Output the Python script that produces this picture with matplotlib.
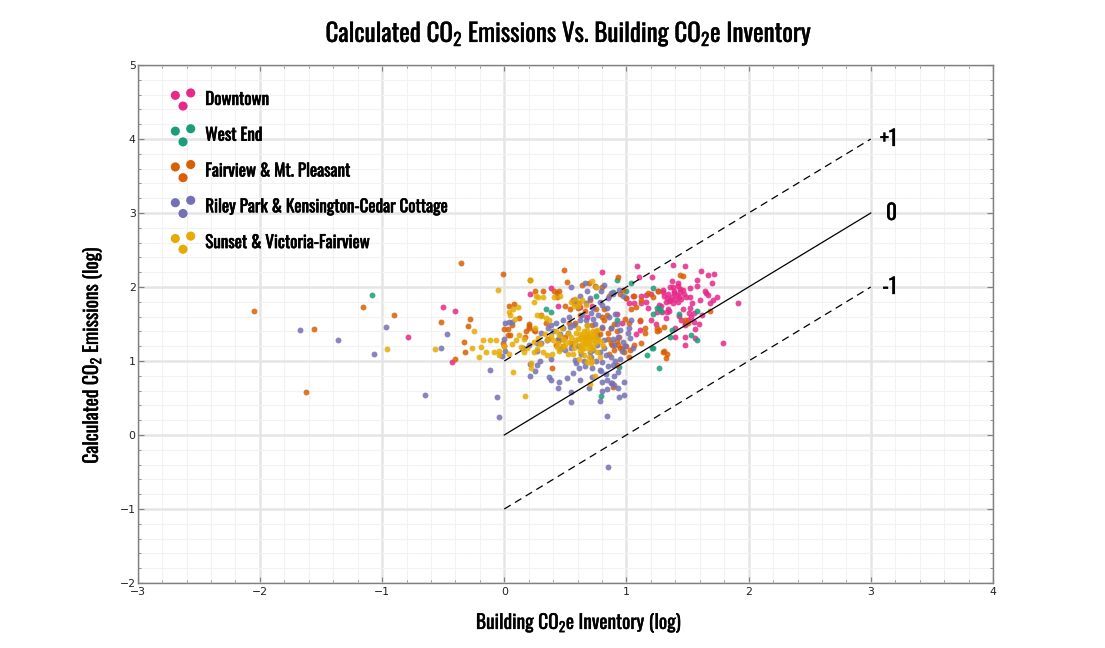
import matplotlib
matplotlib.use("Agg")
import matplotlib.pyplot as plt
import matplotlib.patheffects as pe
from matplotlib.ticker import MultipleLocator

FONT = ['Oswald', 'DejaVu Sans']

# ---------------- data (log10 values) ----------------
groups = ["Downtown", "West End", "Fairview & Mt. Pleasant",
          "Riley Park & Kensington-Cedar Cottage", "Sunset & Victoria-Fairview"]
colors = ["#e7298a", "#1b9e77", "#d95f02", "#7570b3", "#e6ab02"]

downtown_x = [1.09, 1.38, 1.48, 1.61, 1.67, 1.72, 1.10, 1.21, 1.37, 1.36, 1.38, 1.42, 1.44, 1.58,
              1.30, 1.34, 1.37, 1.39, 1.41, 1.43, 1.45, 1.47, 1.49, 1.33, 1.36, 1.40, 1.32, 1.35,
              1.38, 1.42, 1.52, 1.52, 1.54, 1.60, 1.65, 1.67, 1.68, 1.71, 1.74, 1.91, 1.25, 1.29,
              1.33, 1.35, 1.51, 1.55, 1.62, 1.50, 1.55, 1.59, 1.45, 1.48, 1.40, 1.48, 1.56, 1.40,
              1.48, 1.56, 1.48, 1.79, 1.11, 1.11, 1.08, 0.21, 0.38, 0.44, 0.72, 0.80, 0.62, 0.92,
              1.02, 1.06, 1.12, 1.16, 1.12, 1.16, 1.20, 1.00, 1.05, 0.96, -0.50, -0.40, -0.79,
              -0.43, 1.26, 1.30, 1.28, 1.18, 1.46, 1.44, 1.52, 1.64, 1.70, 1.58, 1.42, 1.20, 1.24,
              1.32, 0.68, 0.56, 1.31, 1.39, 1.46, 1.27, 1.53, 1.34, 1.43]
downtown_y = [2.28, 2.30, 2.28, 2.22, 2.16, 2.18, 2.14, 2.13, 2.08, 2.00, 2.00, 2.01, 1.97, 2.02,
              1.93, 1.90, 1.87, 1.92, 1.89, 1.86, 1.84, 1.90, 1.87, 1.85, 1.82, 1.84, 1.80, 1.81,
              1.78, 1.80, 1.98, 1.86, 1.78, 1.82, 1.92, 1.89, 1.79, 1.82, 1.86, 1.78, 1.66, 1.66,
              1.66, 1.67, 1.65, 1.65, 1.62, 1.56, 1.53, 1.50, 1.55, 1.52, 1.45, 1.48, 1.43, 1.32,
              1.33, 1.31, 1.21, 1.25, 1.54, 1.42, 1.37, 1.91, 1.99, 1.75, 1.74, 2.20, 1.73, 1.64,
              1.78, 1.78, 1.79, 1.80, 1.88, 1.89, 1.90, 1.85, 1.88, 1.51, 1.73, 1.68, 1.32,
              0.99, 1.95, 1.96, 1.74, 1.72, 1.70, 1.93, 1.72, 1.94, 2.05, 2.10, 2.05, 1.55, 1.50,
              1.58, 1.60, 1.82, 1.88, 1.95, 1.96, 1.76, 1.60, 1.70, 1.61]

westend_x = [-1.08, 0.34, 0.38, 0.92, 1.04, 1.22, 1.25, 1.28, 1.22, 1.43, 1.58, 1.37, 1.53, 1.58,
             1.22, 1.17, 1.27, 0.79, 0.94, 1.21, 0.89, 0.92, 1.36, 1.27, 1.00, 0.75]
westend_y = [1.89, 1.70, 1.66, 2.09, 2.05, 1.99, 1.71, 1.68, 1.63, 1.63, 1.68, 1.42, 1.35, 1.29,
             1.17, 1.08, 0.90, 0.53, 0.92, 1.17, 1.93, 1.55, 1.32, 1.72, 1.95, 1.88]

fairview_x = [-2.05, -1.62, -1.56, -1.16, -0.90, -0.35, -0.01, -0.28, -0.52, -0.30, -0.33, -0.32,
              -0.40, 0.00, -0.01, 0.00, 0.21, 0.49, 0.08, 0.03, 0.17, 0.20, 0.25, 0.34, 0.43, 0.43,
              0.51, 0.50, 0.57, 0.61, 0.64, 0.69, 0.74, 0.80, 0.93, 0.95, 1.00, 1.06, 1.12, 1.18,
              1.22, 1.26, 0.72, 0.75, 0.78, 0.80, 0.76, 0.85, 0.88, 0.92, 0.95, 0.98, 0.94, 0.90,
              0.87, 0.86, 1.11, 1.15, 1.25, 1.27, 1.30, 1.32, 1.48, 1.50, 1.68, 1.44, 1.46, 0.89,
              0.39, 0.42, 0.45, 0.50, 0.55, 0.48, 0.45, 0.54, 0.60, 0.66, 0.75, 0.80, 0.32, 0.41,
              0.25, 0.53, 0.58, 0.20, 0.24, 0.18, 0.04, 0.06, 0.03, 0.99, 1.02, 0.93, 0.96, 1.00,
              1.03, 1.06, 0.92, 1.04, 1.08, 0.82, 0.84, 0.87, 0.90, 0.82, 0.86, 0.97, 1.31, 1.33,
              1.25, 1.31, 1.15, 0.05, 0.12, 0.30, 0.36, 0.62, 0.70, 0.85, 0.92, 1.02, 1.12, 0.20]
fairview_y = [1.67, 0.58, 1.43, 1.73, 1.62, 2.33, 2.17, 1.57, 1.53, 1.47, 1.26, 1.12,
              1.03, 1.43, 1.24, 1.20, 2.09, 2.23, 1.77, 1.43, 1.32, 1.45, 1.40, 1.52, 1.92, 1.87,
              2.07, 1.74, 1.79, 1.79, 2.03, 2.05, 2.02, 2.00, 2.14, 1.90, 1.85, 1.88, 1.83, 1.92,
              1.86, 1.94, 1.48, 1.40, 1.36, 1.44, 1.35, 1.30, 1.22, 1.27, 1.18, 1.12, 1.33, 1.15,
              1.25, 1.10, 1.55, 1.38, 1.45, 1.42, 1.12, 1.04, 1.55, 1.52, 1.68, 2.16, 2.15, 0.65,
              0.91, 1.22, 1.28, 1.33, 1.25, 1.20, 1.95, 1.70, 1.72, 1.68, 1.70, 1.60, 1.95, 1.95,
              1.94, 1.51, 1.52, 1.50, 1.42, 1.40, 1.75, 1.48, 1.35, 1.57, 1.52, 1.22, 1.17, 1.20,
              1.15, 1.22, 1.40, 1.70, 1.73, 1.55, 1.62, 1.45, 1.50, 1.70, 1.88, 1.96, 1.13, 1.10,
              1.41, 1.46, 1.44, 1.35, 1.58, 1.62, 1.30, 1.62, 1.82, 1.38, 0.95, 1.05, 1.25, 1.47]

riley_x = [-1.67, -1.36, -0.97, -1.07, -0.65, -0.47, -0.52, -0.02, -0.12, -0.06, -0.04, 0.01, 0.04,
           0.00, 0.01, 0.06, 0.55, 0.66, 0.68, 0.75, 0.79, 0.82, 0.87, 0.94, 0.62, 0.58, 0.70, 0.78,
           0.85, 0.89, 0.97, 0.60, 0.67, 0.73, 0.80, 0.84, 0.38, 0.42, 0.48, 0.54, 0.57, 0.68, 0.74,
           0.80, 0.87, 0.92, 0.95, 0.62, 0.67, 0.73, 1.04, 1.02, 1.01, 0.68, 0.76, 0.82, 0.89, 0.93,
           0.97, 1.03, 0.30, 0.27, 0.20, 0.15, 0.36, 0.40, 0.46, 0.52, 0.48, 0.53, 0.29, 0.27, 0.25,
           0.30, 0.46, 0.50, 0.55, 0.60, 0.73, 0.78, 0.83, 0.87, 0.91, 0.95, 0.71, 0.75, 0.80, 0.85,
           0.89, 0.93, 0.66, 0.61, 0.56, 0.78, 0.83, 0.90, 0.72, 0.80, 0.87, 0.69, 0.45, 0.37, 0.55,
           0.80, 0.93, 0.98, 0.84, 0.62, 0.90, 0.94, 0.98, 0.78, 0.55, 0.84, 0.85, 0.88, 0.21, 0.21,
           0.38, 0.44, 0.51, 0.27, 0.38, 0.64, 0.71, 0.77, 0.86, 0.91, 0.99, 1.05, 0.35, 0.44, 0.58,
           0.63, 0.70, 0.76, 0.82, 0.90, 0.96, 0.59, 0.65, 0.72, 0.79, 0.84]
riley_y = [1.42, 1.28, 1.46, 1.10, 0.54, 1.37, 1.17, 1.07, 0.88, 0.52, 0.25, 1.52, 1.53,
           1.30, 1.13, 1.53, 2.00, 2.05, 1.95, 2.00, 1.95, 2.03, 1.92, 1.96, 1.88, 1.82, 1.85, 1.80,
           1.85, 1.90, 1.88, 1.74, 1.78, 1.72, 1.76, 1.72, 1.48, 1.52, 1.44, 1.46, 1.48, 1.49, 1.50,
           1.46, 1.44, 1.50, 1.42, 1.56, 1.55, 1.57, 1.55, 1.45, 1.38, 1.32, 1.33, 1.28, 1.30, 1.33,
           1.26, 1.31, 1.38, 1.25, 1.22, 1.18, 1.44, 1.40, 1.36, 1.38, 1.56, 1.60, 1.00, 0.95, 0.87,
           1.25, 1.16, 1.15, 1.17, 1.20, 1.15, 1.12, 1.08, 1.05, 1.00, 1.03, 1.05, 1.00, 0.98, 0.93,
           0.95, 0.85, 0.93, 0.90, 0.84, 0.88, 0.82, 0.80, 0.78, 0.72, 0.70, 0.63, 0.72, 0.78, 0.58,
           0.60, 0.64, 0.72, 0.62, 0.74, 0.68, 0.51, 0.54, 0.46, 0.44, 0.26, -0.43, 0.70, 0.96, 0.80,
           0.74, 0.63, 0.77, 1.14, 1.03, 1.62, 1.65, 1.62, 1.60, 1.63, 1.20, 1.18, 1.28, 1.30, 1.02,
           1.10, 1.12, 1.21, 1.18, 1.22, 1.14, 0.97, 1.00, 0.90, 0.86, 0.75]

sunset_x = [-0.96, -0.57, -0.25, -0.26, -0.19, -0.17, -0.12, -0.07, -0.15, -0.08, -0.04, -0.04,
            -0.21, -0.05, 0.00, 0.07, 0.11, 0.09, 0.24, 0.28, 0.27, 0.30, 0.34, 0.37, 0.07, 0.22,
            0.22, 0.17, 0.70, 0.55, 0.58, 0.61, 0.64, 0.67, 0.60, 0.57, 0.24, 0.29, 0.35, 0.40,
            0.43, 0.45, 0.48, 0.49, 0.52, 0.32, 0.35, 0.39, 0.24, 0.27, 0.14, 0.16, 0.19, 0.06,
            0.10, 0.62, 0.65, 0.68, 0.71, 0.74, 0.66, 0.69, 0.72, 0.64, 0.60, 0.58, 0.63, 0.67,
            0.70, 0.74, 0.77, 0.79, 0.66, 0.70, 0.62, 0.57, 0.55, 0.53, 0.60, 0.68, 0.76, 0.73,
            0.76, 0.65, 0.69, 0.61, 0.72, 0.68, 0.64, 0.71, 0.67, 0.69, 0.66, 0.73, 0.63, 0.59,
            0.81, 0.56, 0.50, 0.48, 0.52, 0.45, 0.44, 0.78, 0.74, 0.71, 0.21, 0.26, 0.32, 0.41,
            0.46, 0.04, 0.05, 0.25, 0.16, 0.28, 0.75, 0.72, 0.04, 0.42, 0.47, 0.38, 0.33, 0.12,
            0.70, 0.66, 0.75, 0.62, 0.68, 0.73, 0.58, 0.64]
sunset_y = [1.16, 1.16, 1.40, 1.17, 1.19, 1.29, 1.28, 1.28, 1.12, 1.12, 1.14, 1.08,
            1.06, 1.96, 1.20, 1.70, 1.73, 1.57, 1.80, 1.87, 1.62, 1.61, 1.58, 1.56, 0.85, 0.90,
            0.97, 0.53, 0.69, 1.80, 1.84, 1.78, 1.82, 1.76, 1.74, 1.75, 1.26, 1.23, 1.28, 1.28,
            1.19, 1.14, 1.19, 1.28, 1.10, 1.12, 1.08, 1.10, 1.12, 1.16, 1.19, 1.12, 1.17, 1.23,
            1.28, 1.36, 1.40, 1.42, 1.38, 1.35, 1.33, 1.31, 1.29, 1.28, 1.30, 1.25, 1.22, 1.25,
            1.22, 1.24, 1.30, 1.26, 1.18, 1.15, 1.14, 1.18, 1.32, 1.26, 1.45, 1.48, 1.42, 1.18,
            1.12, 1.08, 1.05, 1.03, 1.00, 0.98, 1.34, 1.34, 1.37, 1.27, 1.29, 1.32, 1.31, 1.38,
            1.20, 1.10, 1.22, 1.30, 1.38, 1.35, 1.25, 1.05, 0.80, 0.97, 2.09, 1.88, 1.87, 1.87,
            1.88, 1.66, 1.62, 1.44, 1.30, 1.31, 2.00, 2.08, 1.10, 1.40, 1.45, 1.34, 1.36, 1.35,
            1.20, 1.24, 1.27, 1.20, 1.35, 1.40, 1.28, 1.16]

xs = [downtown_x, westend_x, fairview_x, riley_x, sunset_x]
ys = [downtown_y, westend_y, fairview_y, riley_y, sunset_y]

# reference lines: difference (log) between the two measures
offsets = [1, 0, -1]
offset_labels = ["+1", "0", "-1"]
line_x = [0, 3]

title = r'Calculated CO$_\mathregular{2}$ Emissions Vs. Building CO$_\mathregular{2}$e Inventory'
xlabel = r'Building CO$_\mathregular{2}$e Inventory (log)'
ylabel = r'Calculated CO$_\mathregular{2}$ Emissions (log)'

# slight stroke to emulate the heavier weight of the original typeface
heavy = [pe.withStroke(linewidth=0.25, foreground='black')]
heavier = [pe.withStroke(linewidth=0.45, foreground='black')]

# ---------------- figure ----------------
W, H = 1105, 648
fig = plt.figure(figsize=(W / 100, H / 100), dpi=100)
ax = fig.add_axes([137.7 / W, 1 - 583 / H, (993 - 137.7) / W, (583 - 65) / H])

ax.set_xlim(-3, 4)
ax.set_ylim(-2, 5)
ax.xaxis.set_major_locator(MultipleLocator(1))
ax.yaxis.set_major_locator(MultipleLocator(1))
ax.xaxis.set_minor_locator(MultipleLocator(0.2))
ax.yaxis.set_minor_locator(MultipleLocator(0.2))
ax.grid(which='major', color='#e5e5e5', linewidth=1.8, zorder=0)
ax.grid(which='minor', color='#f2f2f2', linewidth=0.8, zorder=0)
ax.set_axisbelow(True)
for s in ax.spines.values():
    s.set_color('#808080')
    s.set_linewidth(1.0)
ax.tick_params(which='both', direction='in', top=True, right=True, color='#808080')
ax.tick_params(which='major', length=4)
ax.tick_params(which='minor', length=2.5)
ax.tick_params(axis='both', labelsize=7.8, labelcolor='#222222')
ax.tick_params(axis='x', pad=3)
ax.tick_params(axis='y', pad=1.5)

for name, c, x, y in zip(groups, colors, xs, ys):
    ax.scatter(x, y, s=18, color=c, alpha=0.85, linewidths=0, label=name, zorder=3)

for off, lab in zip(offsets, offset_labels):
    ly = [v + off for v in line_x]
    if off == 0:
        ax.plot(line_x, ly, color='black', linewidth=0.9, zorder=4)
    else:
        ax.plot(line_x, ly, color='black', linewidth=0.9, dashes=(6, 4), zorder=4)
    ax.text(line_x[1] + 0.215, ly[1], lab, fontsize=15.5, family=FONT,
            va='center', ha='right', path_effects=heavy)

leg = ax.legend(loc='upper left', bbox_to_anchor=(0.038, 0.95), frameon=False,
                scatterpoints=3, scatteryoffsets=[0.8, -0.1, 1.0], handlelength=1.5,
                handletextpad=0.55, labelspacing=1.1, markerscale=1.55,
                prop={'family': FONT, 'size': 12.3},
                borderaxespad=0.0, borderpad=0.0)
for h in leg.legend_handles:
    h.set_alpha(1.0)
for t in leg.get_texts():
    t.set_path_effects(heavier)

fig.text(569 / W, 1 - 42 / H, title, family=FONT, fontsize=18,
         ha='center', va='baseline', path_effects=heavy)
fig.text(579 / W, 1 - 629 / H, xlabel, family=FONT, fontsize=14,
         ha='center', va='baseline', path_effects=heavy)
fig.text(104 / W, 1 - 355 / H, ylabel, family=FONT, fontsize=14,
         ha='right', va='center', rotation=90, path_effects=heavy)

fig.savefig('out.png', dpi=100)
